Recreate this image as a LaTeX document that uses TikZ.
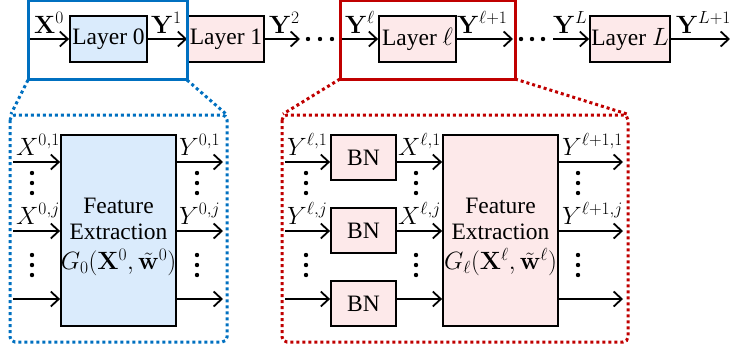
\RequirePackage{fix-cm}
\documentclass[tikz,border=0pt]{standalone}
\usepackage[no-math]{fontspec}
\setmainfont{Liberation Serif}
\DeclareMathSizes{23.5}{25}{17.5}{12.5}
\usetikzlibrary{arrows.meta}
\definecolor{cblue}{HTML}{0070C0}
\definecolor{cred}{HTML}{C00000}
\definecolor{fblue}{HTML}{DAEBFC}
\definecolor{fpink}{HTML}{FDE9EA}
\begin{document}
\begin{tikzpicture}[x=1pt,y=-1pt,
  font=\fontsize{23.5}{26}\selectfont,
  blk/.style={draw=black, line width=1.8pt, inner sep=0pt, align=center},
  arr/.style={line width=1.8pt, -{Straight Barb[length=8pt,width=15pt,line width=1.8pt]}},
  lab/.style={anchor=base west, inner sep=0pt},
  fetext/.style={align=center, inner sep=0pt},
  outer/.style={line width=3pt},
  dots/.style={line width=3pt, dash pattern=on 3pt off 3pt, rounded corners=5pt},
  dotlink/.style={line width=3pt, dash pattern=on 3pt off 3pt}]
\useasboundingbox (0,0) rectangle (730,354);

% ---------- top row ----------
\node[blk, fill=fblue, minimum width=77pt, minimum height=46pt] (l0) at (108.5,39) {Layer 0};
\node[blk, fill=fpink, minimum width=76pt, minimum height=46pt] (l1) at (226,39) {Layer 1};
\node[blk, fill=fpink, minimum width=77pt, minimum height=46pt] (ll) at (417.5,39) {Layer $\ell$};
\node[blk, fill=fpink, minimum width=80pt, minimum height=46pt] (lL) at (630,39) {Layer $L$};

\coordinate (x0) at (29,39);
\coordinate (y2end) at (300,39);
\coordinate (ylstart) at (341,39);
\coordinate (yl1end) at (513,39);
\coordinate (yLstart) at (553,39);
\coordinate (yL1end) at (730,39);

\draw[arr] (x0) -- (l0.west);
\draw[arr] (l0.east) -- (l1.west);
\draw[arr] (l1.east) -- (y2end);
\draw[arr] (ylstart) -- (ll.west);
\draw[arr] (ll.east) -- (yl1end);
\draw[arr] (yLstart) -- (lL.west);
\draw[arr] (lL.east) -- (yL1end);

\node[lab] (tx0) at (34,33) {$\mathbf{X}^{0}$};
\node[lab] (ty1) at (151,33) {$\mathbf{Y}^{1}$};
\node[lab] (ty2) at (269,33) {$\mathbf{Y}^{2}$};
\node[lab] (tyl) at (345,33) {$\mathbf{Y}^{\ell}$};
\node[lab] (tyl1) at (457,33) {$\mathbf{Y}^{\ell+1}$};
\node[lab] (tyL) at (553,33) {$\mathbf{Y}^{L}$};
\node[lab] (tyL1) at (676,33) {$\mathbf{Y}^{L+1}$};

\foreach \x in {308,320,332,521,532,543} \fill (\x,39) circle (2.2pt);

% solid frames
\draw[outer, cblue] (28,0) rectangle (187,79);
\draw[outer, cred] (340,0) rectangle (515,79);

% dotted frames and links
\draw[dots, cblue] (10,115) rectangle (227,342);
\draw[dotlink, cblue] (28,80) -- (11,114);
\draw[dotlink, cblue] (187,80) -- (226,114);
\draw[dots, cred] (282,115) rectangle (628,342);
\draw[dotlink, cred] (340,79) -- (283,114);
\draw[dotlink, cred] (515,79) -- (627,114);

% ---------- bottom left ----------
\node[blk, fill=fblue, minimum width=115pt, minimum height=191pt] (fe0) at (118.5,230.5) {};
\node[fetext] (fe0t) at (118.5,237)
  {Feature\\[0pt]Extraction\\[4pt]$G_0(\mathbf{X}^{0},\tilde{\mathbf{w}}^{0})$};

\foreach \r/\yy in {1/162,2/231,3/299}{
  \coordinate (bi\r) at (13,\yy);
  \coordinate (bo\r) at (223,\yy);
  \draw[arr] (bi\r) -- (bi\r -| fe0.west);
  \draw[arr] (bo\r -| fe0.east) -- (bo\r);
}
\node[lab] (bx1) at (16,155) {$X^{0,1}$};
\node[lab] (bxj) at (16,224) {$X^{0,j}$};
\node[lab] (by1) at (179,155) {$Y^{0,1}$};
\node[lab] (byj) at (179,224) {$Y^{0,j}$};

\foreach \x in {32,197}{
  \foreach \yy in {173,183,193,255,265,275} \fill (\x,\yy) circle (2.2pt);
}

% ---------- bottom right ----------
\node[blk, fill=fpink, minimum width=65pt, minimum height=45pt] (bn1) at (363.5,157.5) {BN};
\node[blk, fill=fpink, minimum width=65pt, minimum height=45pt] (bn2) at (363.5,230.5) {BN};
\node[blk, fill=fpink, minimum width=65pt, minimum height=45pt] (bn3) at (363.5,303.5) {BN};
\node[blk, fill=fpink, minimum width=115pt, minimum height=191pt] (fel) at (500.5,230.5) {};
\node[fetext] (felt) at (500.5,237)
  {Feature\\[0pt]Extraction\\[4pt]$G_{\ell}(\mathbf{X}^{\ell},\tilde{\mathbf{w}}^{\ell})$};

\foreach \r/\yy in {1/162,2/231,3/299}{
  \coordinate (ri\r) at (285,\yy);
  \coordinate (ro\r) at (623,\yy);
  \draw[arr] (ri\r) -- (ri\r -| bn\r.west);
  \draw[arr] (ri\r -| bn\r.east) -- (ri\r -| fel.west);
  \draw[arr] (ro\r -| fel.east) -- (ro\r);
}
\node[lab] (ry1) at (287,155) {$Y^{\ell,1}$};
\node[lab] (ryj) at (287,224) {$Y^{\ell,j}$};
\node[lab] (rx1) at (398,155) {$X^{\ell,1}$};
\node[lab] (rxj) at (398,224) {$X^{\ell,j}$};
\node[lab] (ry21) at (562,155) {$Y^{\ell+1,1}$};
\node[lab] (ry2j) at (562,224) {$Y^{\ell+1,j}$};

\foreach \x in {306,416,578}{
  \foreach \yy in {173,183,193,255,265,275} \fill (\x,\yy) circle (2.2pt);
}
\end{tikzpicture}
\end{document}
